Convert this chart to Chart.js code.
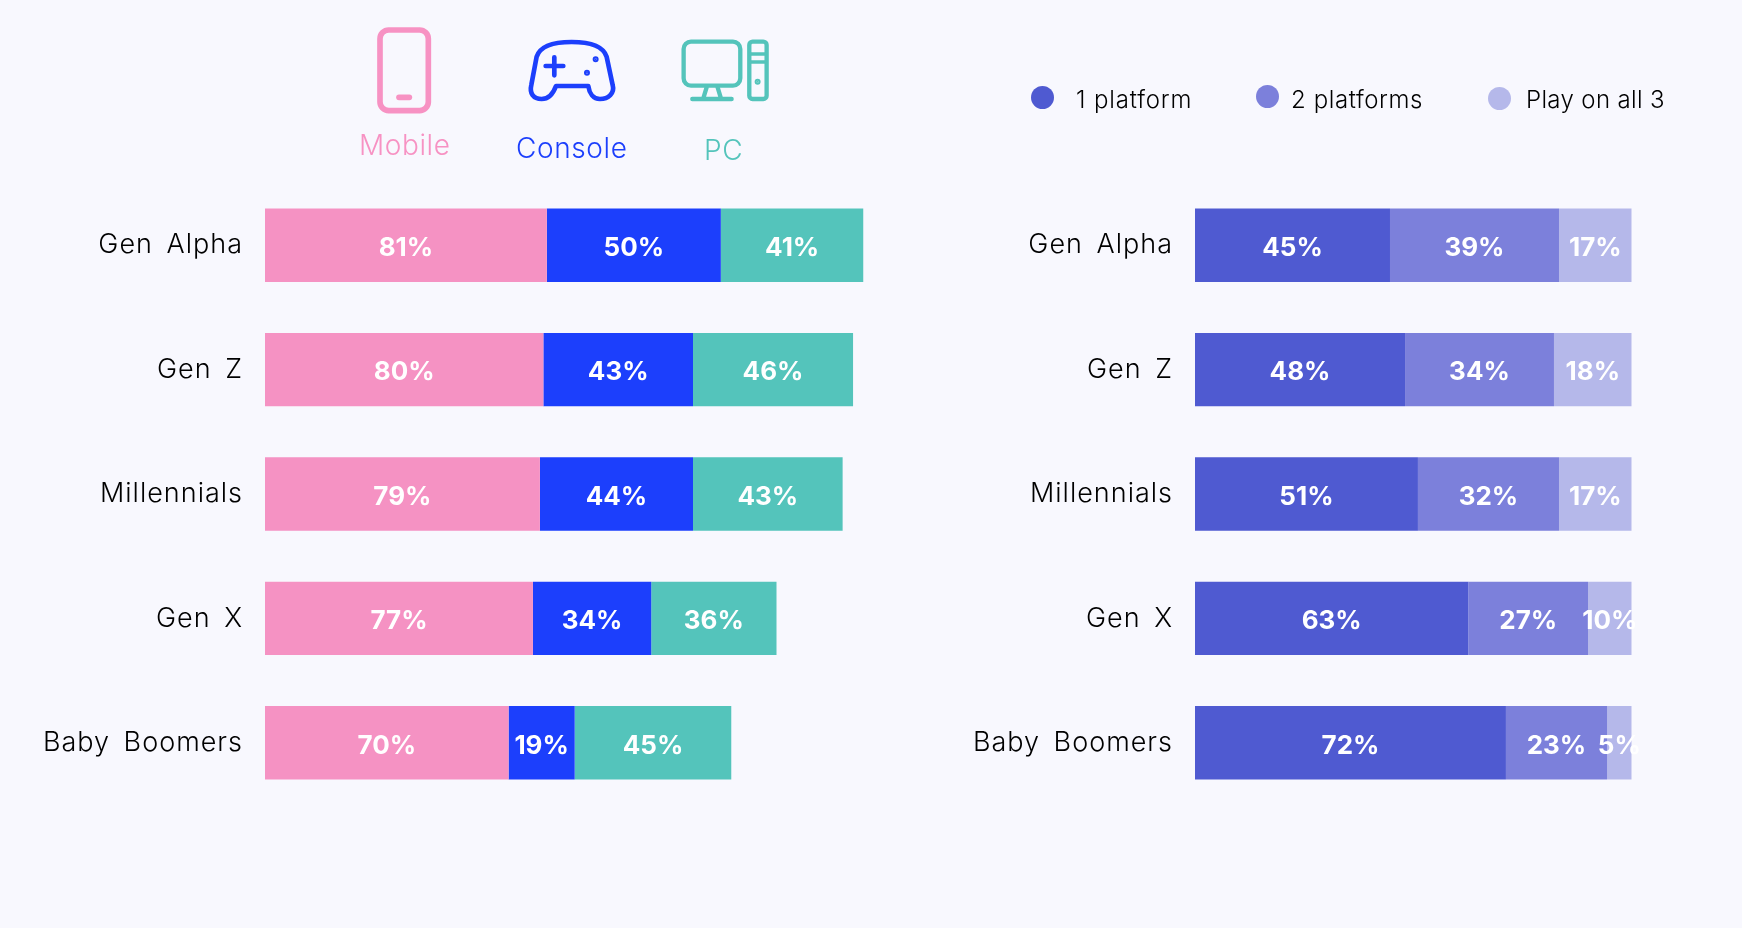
<!DOCTYPE html>
<html>
<head>
<meta charset="utf-8">
<title>Platforms by generation</title>
<script src="https://cdn.jsdelivr.net/npm/chart.js@4"></script>
<style>
    html, body { margin: 0; padding: 0; background: #F8F8FE; }
    #page { position: relative; width: 1742px; height: 928px; overflow: hidden; font-family: "Inter", sans-serif; font-weight: 300; }
    canvas { position: absolute; top: 0; }
    #icons { position: absolute; left: 0; top: 0; }
    .txt { position: absolute; white-space: nowrap; line-height: 1; transform: translateY(-50%); }
    .head { font-size: 28px; letter-spacing: 0.6px; }
    .leg { font-size: 24px; color: #000; top: 100px; }
    .dot { position: absolute; width: 23px; height: 23px; border-radius: 50%; }
</style>
</head>
<body>
<div id="page">
    <canvas id="deviceChart" width="880" height="928" style="left:0"></canvas>
    <canvas id="countChart" width="842" height="928" style="left:900px"></canvas>

    <svg id="icons" width="800" height="190" fill="none" stroke-linecap="round" stroke-linejoin="round">
        <g transform="translate(340,0) scale(0.3333)">
            <!-- phone -->
            <g stroke="#F792C3" stroke-width="17">
                <rect x="120" y="90" width="145" height="242" rx="26"/>
                <path d="M177 292 H208"/>
            </g>
            <!-- controller -->
            <g stroke="#1C3FFC" stroke-width="14">
                <path d="M590 170 C600 140 640 126 695 126 C750 126 790 140 800 170 L818 255 C825 280 805 297 780 297 C760 297 748 280 745 258 L648 258 C640 280 625 297 605 297 C580 297 568 280 574 255 Z"/>
                <path d="M617 198 H670 M643 172 V226"/>
                <circle cx="767" cy="178" r="3" stroke-width="12" fill="#1C3FFC"/>
                <circle cx="741" cy="218" r="3" stroke-width="12" fill="#1C3FFC"/>
            </g>
            <!-- desktop pc -->
            <g stroke="#54C4BB" stroke-width="13">
                <rect x="1031" y="125" width="170" height="132" rx="22"/>
                <path d="M1100 262 L1090 295 M1133 262 L1143 295 M1057 297 H1175"/>
                <rect x="1228" y="125" width="52" height="172" rx="10"/>
                <path d="M1228 162 H1280 M1228 186 H1280" stroke-width="11" stroke-linecap="butt"/>
                <circle cx="1253" cy="245" r="3" stroke-width="12" fill="#54C4BB"/>
            </g>
        </g>
    </svg>
    <span class="txt head" style="left:359px;top:145px;color:#F792C3">Mobile</span>
    <span class="txt head" style="left:516px;top:148px;color:#1C3FFC">Console</span>
    <span class="txt head" style="left:704px;top:150px;color:#54C4BB">PC</span>

    <span class="dot" style="left:1031px;top:86px;background:#4F5AD1"></span>
    <span class="dot" style="left:1256px;top:85px;background:#7C80DB"></span>
    <span class="dot" style="left:1488px;top:87px;background:#B5B8EA"></span>
    <span class="txt leg" style="left:1076px;letter-spacing:0.85px">1 platform</span>
    <span class="txt leg" style="left:1291px;letter-spacing:0.6px">2 platforms</span>
    <span class="txt leg" style="left:1526px;letter-spacing:0.35px">Play on all 3</span>
</div>

<script>
// Data
const generations = ["Gen Alpha", "Gen Z", "Millennials", "Gen X", "Baby Boomers"];

const mobile = [81, 80, 79, 77, 70];
const consoleGames = [50, 43, 44, 34, 19];
const pc = [41, 46, 43, 36, 45];

// Printed percentages of the right panel
const onePlatformLabels = [45, 48, 51, 63, 72];
const twoPlatformsLabels = [39, 34, 32, 27, 23];
const allThreeLabels = [17, 18, 17, 10, 5];

// Bar lengths of the right panel as measured, they differ a little from the printed numbers
const onePlatform = [44.65, 48.1, 51.05, 62.6, 71.2];
const twoPlatforms = [38.7, 34.1, 32.3, 27.4, 23.15];
const allThree = [16.65, 17.8, 16.65, 10, 5.65];

// Chart.js has no data labels of its own, so write the percentages on the bars here
const barLabels = {
    id: "barLabels",
    beforeDraw(chart) {
        // spacing for the axis labels, this font is narrower than the original one
        chart.ctx.letterSpacing = "1px";
        chart.ctx.wordSpacing = "5px";
    },
    afterDatasetsDraw(chart) {
        const ctx = chart.ctx;
        ctx.save();
        ctx.letterSpacing = "0px";
        ctx.wordSpacing = "0px";
        ctx.fillStyle = "#fff";
        ctx.font = "700 26px Inter";
        ctx.textAlign = "center";
        ctx.textBaseline = "middle";
        chart.data.datasets.forEach((dataset, i) => {
            chart.getDatasetMeta(i).data.forEach((bar, j) => {
                ctx.fillText(dataset.shown[j] + "%", (bar.base + bar.x) / 2, bar.y + 3);
            });
        });
        ctx.restore();
    }
};

function createStackedChart(id, series, axisWidth, xMax, rightPadding) {
    return new Chart(document.getElementById(id), {
        type: "bar",
        data: {
            labels: generations,
            datasets: series
        },
        options: {
            indexAxis: "y",
            responsive: false,
            animation: false,
            devicePixelRatio: 1,
            events: [],
            barPercentage: 0.59,
            categoryPercentage: 1,
            layout: { padding: { top: 183, bottom: 123, left: 0, right: rightPadding } },
            plugins: { legend: { display: false }, tooltip: { enabled: false } },
            scales: {
                x: { stacked: true, min: 0, max: xMax, display: false },
                y: {
                    stacked: true,
                    border: { display: false },
                    grid: { display: false, drawTicks: false },
                    ticks: { color: "#000", padding: 22, font: { family: "Inter", size: 27, weight: 300 } },
                    afterFit(scale) { scale.width = axisWidth; }
                }
            }
        },
        plugins: [barLabels]
    });
}

createStackedChart("deviceChart", [
    { label: "Mobile", data: mobile, shown: mobile, backgroundColor: "#F592C3" },
    { label: "Console", data: consoleGames, shown: consoleGames, backgroundColor: "#1C3FFC" },
    { label: "PC", data: pc, shown: pc, backgroundColor: "#54C4BB" }
], 265, 172, 16.5);

createStackedChart("countChart", [
    { label: "1 platform", data: onePlatform, shown: onePlatformLabels, backgroundColor: "#4F5AD1" },
    { label: "2 platforms", data: twoPlatforms, shown: twoPlatformsLabels, backgroundColor: "#7C80DB" },
    { label: "Play on all 3", data: allThree, shown: allThreeLabels, backgroundColor: "#B5B8EA" }
], 295, 100, 110.3);
</script>
</body>
</html>
